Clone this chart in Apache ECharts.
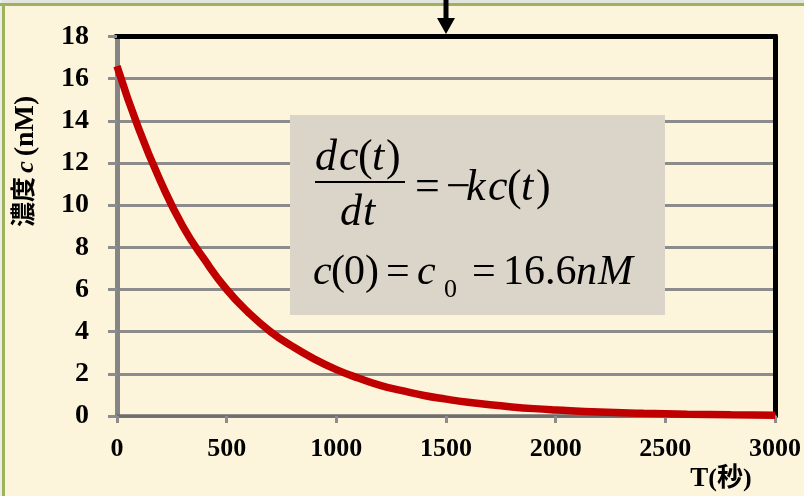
<!DOCTYPE html>
<html>
<head>
<meta charset="utf-8">
<script src="https://cdn.jsdelivr.net/npm/echarts@6/dist/echarts.min.js"></script>
<style>
  html, body { margin: 0; padding: 0; background: #fdf4dc; }
  #chart { width: 804px; height: 496px; }
</style>
</head>
<body>
<div id="chart"></div>
<script>
// Time points (seconds) and measured concentration c(t) in nM
var times = [0, 100, 200, 300, 400, 500, 600, 700, 800, 900, 1000,
             1100, 1200, 1300, 1400, 1500, 1600, 1700, 1800, 1900, 2000,
             2200, 2400, 2600, 2800, 3000];
var concentration = [16.6, 13.6, 11.1, 9.0, 7.4, 6.0, 4.9, 4.0, 3.3, 2.7, 2.2,
                     1.8, 1.45, 1.2, 0.97, 0.8, 0.65, 0.53, 0.43, 0.35, 0.29,
                     0.19, 0.13, 0.085, 0.056, 0.04];

// Axis ranges and tick steps
var xTicks = { min: 0, max: 3000, interval: 500 };
var yTicks = { min: 0, max: 18, interval: 2 };

var SERIF = "'Liberation Serif', 'Times New Roman', 'Noto Sans CJK JP', serif";
var CJK = "'Liberation Serif', 'Noto Sans CJK JP', serif";

var points = times.map(function (t, i) { return [t, concentration[i]]; });

// One glyph of the rate-equation box
function glyph(text, x, y, italic, size) {
  return {
    type: 'text', x: x, y: y, z: 110,
    style: {
      text: text, fill: '#000',
      fontFamily: SERIF, fontSize: size || 42,
      fontStyle: italic ? 'italic' : 'normal',
      align: 'left', verticalAlign: 'middle'
    }
  };
}

var formula = [
  // numerator dc(t)
  glyph('d', 315, 158, true, 44), glyph('c', 339, 158, true, 44), glyph('(', 358, 158, false, 44),
  glyph('t', 372, 158, true, 44), glyph(')', 386, 158, false, 44),
  // denominator dt
  glyph('d', 340, 213, true, 44), glyph('t', 363, 213, true, 44),
  // = -kc(t)
  glyph('=', 415, 188, false, 44), glyph('\u2212', 446, 188, false, 44),
  glyph('k', 466, 188, true, 44), glyph('c', 488, 188, true, 44), glyph('(', 507, 188, false, 44),
  glyph('t', 521, 188, true, 44), glyph(')', 536, 188, false, 44),
  // c(0) = c0 = 16.6nM
  glyph('c', 313, 273, true), glyph('(', 331, 273), glyph('0', 344, 273), glyph(')', 365, 273),
  glyph('=', 386, 273), glyph('c', 417, 273, true), glyph('0', 444, 290, false, 26),
  glyph('=', 472, 273), glyph('16.6', 503, 273), glyph('n', 576, 273, true), glyph('M', 598, 273, true)
];

var chart = echarts.init(document.getElementById('chart'));
chart.setOption({
  backgroundColor: '#fdf4dc',
  animation: false,
  grid: { left: 117, right: 27.5, top: 36.5, bottom: 80 },
  xAxis: [{
    type: 'value', min: xTicks.min, max: xTicks.max, interval: xTicks.interval,
    axisLine: { onZero: false, lineStyle: { color: '#6e6e6e', width: 3.5 } },
    axisTick: { length: 7, lineStyle: { color: '#8c8c8c', width: 3 } },
    axisLabel: { margin: 20, color: '#000', fontFamily: SERIF, fontWeight: 'bold', fontSize: 26,
                 formatter: function (v) { return String(v); } },
    splitLine: { show: false }
  }, {
    type: 'value', position: 'top', min: xTicks.min, max: xTicks.max,
    axisLine: { show: true, onZero: false, lineStyle: { color: '#000', width: 5, cap: 'square' } },
    axisTick: { show: false }, axisLabel: { show: false }, splitLine: { show: false }
  }],
  yAxis: [{
    type: 'value', min: yTicks.min, max: yTicks.max, interval: yTicks.interval,
    axisLine: { show: true, onZero: false, lineStyle: { color: '#858585', width: 5 } },
    axisTick: { show: true, length: 9, lineStyle: { color: '#8c8c8c', width: 3 } },
    axisLabel: { margin: 28, color: '#000', fontFamily: SERIF, fontWeight: 'bold', fontSize: 28 },
    splitLine: { lineStyle: { color: '#8c8c8c', width: 3 } }
  }, {
    type: 'value', position: 'right', min: yTicks.min, max: yTicks.max,
    axisLine: { show: true, onZero: false, lineStyle: { color: '#000', width: 5 } },
    axisTick: { show: false }, axisLabel: { show: false }, splitLine: { show: false }
  }],
  series: [{
    type: 'line', xAxisIndex: 0, yAxisIndex: 0,
    data: points, smooth: true, symbol: 'none', z: 5,
    lineStyle: { color: '#c00000', width: 7.5 }
  }],
  graphic: [
    // frame strips along the top and left edges
    { type: 'rect', z: 1, shape: { x: 0, y: 0, width: 804, height: 3 }, style: { fill: '#e4e4de' } },
    { type: 'rect', z: 1, shape: { x: 0, y: 0, width: 2, height: 496 }, style: { fill: '#eeeee8' } },
    { type: 'rect', z: 2, shape: { x: 0, y: 3, width: 804, height: 3 }, style: { fill: '#9cb25c' } },
    { type: 'rect', z: 2, shape: { x: 2, y: 3, width: 3, height: 493 }, style: { fill: '#9cb25c' } },
    // arrow pointing at the top edge of the plot
    { type: 'rect', z: 20, shape: { x: 443.5, y: 0, width: 5, height: 20 }, style: { fill: '#000' } },
    { type: 'polygon', z: 20, shape: { points: [[437, 18], [455, 18], [446, 34]] }, style: { fill: '#000' } },
    // equation box
    { type: 'rect', z: 100, shape: { x: 290, y: 115, width: 375, height: 200 }, style: { fill: '#dad5c8' } },
    { type: 'line', z: 110, shape: { x1: 315, y1: 182, x2: 405, y2: 182 }, style: { stroke: '#000', lineWidth: 2 } }
  ].concat(formula).concat([
    // y-axis title 濃度c(nM), reading bottom to top
    { type: 'text', z: 20, x: 26, y: 202, rotation: Math.PI / 2,
      style: { text: '濃度', fill: '#000', fontFamily: CJK, fontWeight: 'bold', fontSize: 25, align: 'center', verticalAlign: 'middle' } },
    { type: 'text', z: 20, x: 26, y: 167, rotation: Math.PI / 2,
      style: { text: 'c', fill: '#000', fontFamily: SERIF, fontWeight: 'bold', fontStyle: 'italic', fontSize: 26, align: 'center', verticalAlign: 'middle' } },
    { type: 'text', z: 20, x: 26, y: 126, rotation: Math.PI / 2,
      style: { text: '(nM)', fill: '#000', fontFamily: SERIF, fontWeight: 'bold', fontSize: 28, align: 'center', verticalAlign: 'middle' } },
    // x-axis title T(秒)
    { type: 'text', z: 20, x: 721, y: 479,
      style: { text: '{t|T}{c|(秒)}', align: 'center', verticalAlign: 'middle',
        rich: {
          t: { fill: '#000', fontFamily: SERIF, fontWeight: 'bold', fontSize: 27 },
          c: { fill: '#000', fontFamily: CJK, fontWeight: 'bold', fontSize: 26 }
        } } }
  ])
});
</script>
</body>
</html>
